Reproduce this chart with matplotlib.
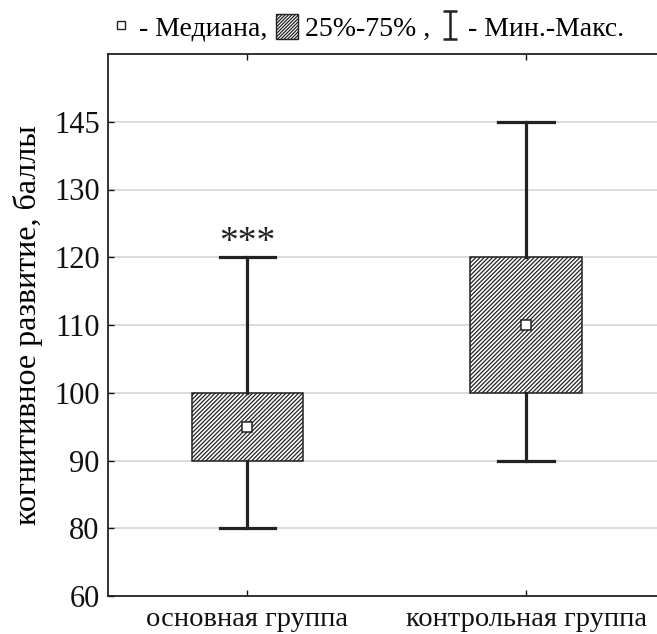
import numpy as np
import matplotlib
matplotlib.use("Agg")
import matplotlib.pyplot as plt
from matplotlib.path import Path
from matplotlib.patches import Patch
from matplotlib.lines import Line2D

# ---- data ----
categories = ["основная группа", "контрольная группа"]
q1 = [90, 100]
q3 = [100, 120]
medians = [95, 110]
mins = [80, 90]
maxs = [120, 145]
tick_values = [60, 80, 90, 100, 110, 120, 130, 145]
ylabel = "когнитивное развитие, баллы"
legend_labels = ["- Медиана,", "25%-75% ,", "- Мин.-Макс."]
signif = "***"

plt.rcParams['font.family'] = ['Liberation Serif', 'DejaVu Serif']
plt.rcParams['hatch.linewidth'] = 0.9
plt.rcParams['hatch.color'] = '#222222'

# non-uniform axis: tick values equally spaced
tv = np.array(tick_values, float)
ti = np.arange(len(tv), dtype=float)

def fwd(v):
    v = np.asarray(v, float)
    out = np.interp(v, tv, ti)
    out = np.where(v < tv[0], (v - tv[0]) / (tv[1] - tv[0]), out)
    out = np.where(v > tv[-1], ti[-1] + (v - tv[-1]) / (tv[-1] - tv[-2]), out)
    return out

def inv(u):
    u = np.asarray(u, float)
    out = np.interp(u, ti, tv)
    out = np.where(u < 0, tv[0] + u * (tv[1] - tv[0]), out)
    out = np.where(u > ti[-1], tv[-1] + (u - ti[-1]) * (tv[-1] - tv[-2]), out)
    return out

fig = plt.figure(figsize=(6.57, 6.34), dpi=100)
ax = fig.add_axes([108/657, 38/634, (665.5-108)/657, (596-54)/634])
ax.set_yscale('function', functions=(fwd, inv))

stats = []
for i in range(len(categories)):
    stats.append(dict(med=medians[i], q1=q1[i], q3=q3[i],
                      whislo=mins[i], whishi=maxs[i], fliers=[], label=categories[i]))

positions = np.arange(1, len(categories) + 1)
bp = ax.bxp(stats, positions=positions, widths=0.4, capwidths=0.2,
            patch_artist=True, showfliers=False,
            boxprops=dict(facecolor='white', edgecolor='#222222', linewidth=1.1, hatch='////////'),
            whiskerprops=dict(color='#222222', linewidth=2.3),
            capprops=dict(color='#222222', linewidth=2.3),
            medianprops=dict(linestyle='none'), zorder=3)

ax.plot(positions, medians, linestyle='none', marker='s', markersize=7,
        markerfacecolor='white', markeredgecolor='#222222', markeredgewidth=1.1, zorder=5)

ax.annotate(signif, xy=(positions[0], maxs[0]), xytext=(0, -2), textcoords='offset points',
            ha='center', va='bottom', fontsize=27, color='#222222')

ax.set_xlim(0.5, 2.5)
ax.set_ylim(tv[0], inv(8.0))
ax.set_yticks(tick_values)
ax.set_yticklabels([str(t) for t in tick_values])
ax.yaxis.set_minor_locator(matplotlib.ticker.NullLocator())
ax.set_xticks(positions)
ax.set_xticklabels(categories)

ax.grid(axis='y', color='#d9d9d9', linewidth=1.3, zorder=0)
ax.set_axisbelow(True)
ax.tick_params(axis='y', direction='in', length=4, width=1, labelsize=22, pad=6, colors='#111111')
ax.tick_params(axis='x', direction='in', length=4, width=1, labelsize=20.5, pad=8,
               top=True, colors='#111111')
for s in ['left', 'bottom', 'top']:
    ax.spines[s].set_linewidth(1.3)
    ax.spines[s].set_color('#222222')
ax.spines['right'].set_visible(False)

ax.set_ylabel(ylabel, fontsize=23, labelpad=8)

# legend
ibar = Path([(-0.5, 1), (0.5, 1), (0, 1), (0, -1), (-0.5, -1), (0.5, -1)],
            [Path.MOVETO, Path.LINETO, Path.MOVETO, Path.LINETO, Path.MOVETO, Path.LINETO])
handles = [
    Line2D([], [], linestyle='none', marker='s', markersize=6, markerfacecolor='white',
           markeredgecolor='#222222', markeredgewidth=1.0),
    Patch(facecolor='white', edgecolor='#222222', hatch='//////////', linewidth=1.0),
    Line2D([], [], linestyle='none', marker=ibar, markersize=20, markerfacecolor='none',
           markeredgecolor='#222222', markeredgewidth=1.8),
]
fig.legend(handles, legend_labels, loc='center', bbox_to_anchor=(367/657, 1 - 28/634),
           ncol=3, frameon=False, fontsize=20, handlelength=0.8, handleheight=1.0,
           handletextpad=0.25, columnspacing=0.3, borderpad=0)

fig.savefig("out.png", dpi=100)
